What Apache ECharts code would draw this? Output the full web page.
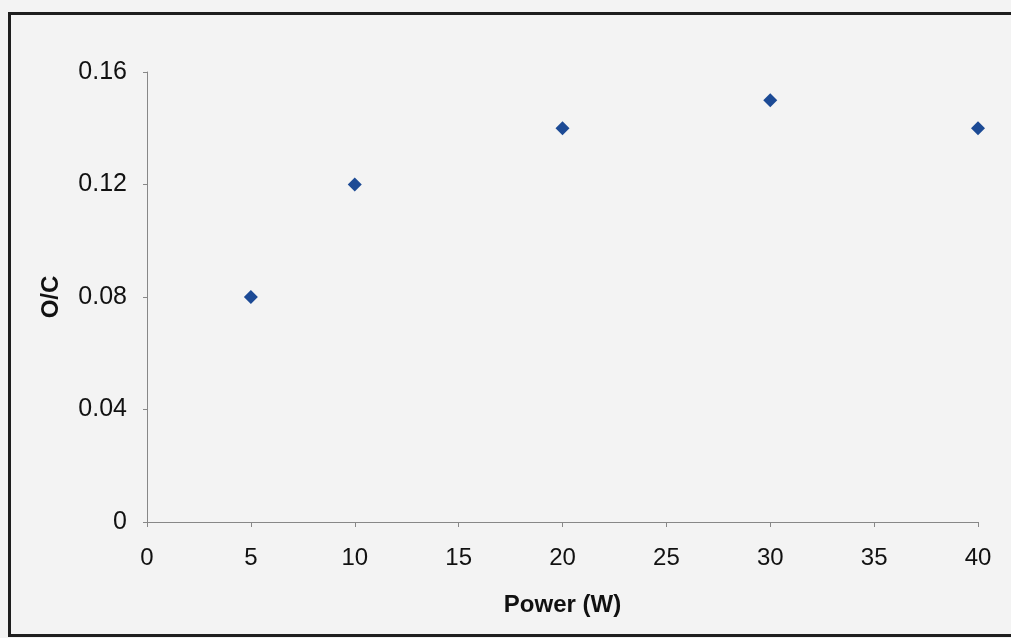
<!DOCTYPE html>
<html>
<head>
<meta charset="utf-8">
<title>O/C vs Power</title>
<script src="https://cdn.jsdelivr.net/npm/echarts@6/dist/echarts.min.js"></script>
<style>
  html, body { margin: 0; padding: 0; background: #f3f3f3; }
  #chart { width: 1011px; height: 638px; }
</style>
</head>
<body>
<div id="chart"></div>
<script>
// Measured O/C ratio at each discharge power
const powerW = [5, 10, 20, 30, 40];
const ocRatio = [0.08, 0.12, 0.14, 0.15, 0.14];

// Axis ranges and tick steps
const xTicks = { min: 0, max: 40, step: 5 };
const yTicks = { min: 0, max: 0.16, step: 0.04 };

const font = '"Liberation Sans", Arial, sans-serif';
const axisGrey = '#878787';

const chart = echarts.init(document.getElementById('chart'), null, { renderer: 'canvas' });

chart.setOption({
  backgroundColor: '#f3f3f3',
  animation: false,
  graphic: [{
    type: 'rect',
    shape: { x: 9.5, y: 13.5, width: 1030, height: 622 },
    style: { fill: 'none', stroke: '#1e1e1e', lineWidth: 3 },
    silent: true
  }],
  grid: { left: 147, top: 72, width: 831, height: 450, containLabel: false },
  xAxis: {
    type: 'value',
    min: xTicks.min,
    max: xTicks.max,
    interval: xTicks.step,
    name: 'Power (W)',
    nameLocation: 'middle',
    nameGap: 71,
    nameTextStyle: { fontFamily: font, fontSize: 24, fontWeight: 'bold', color: '#111' },
    axisLine: { onZero: false, lineStyle: { color: axisGrey, width: 1 } },
    axisTick: { show: true, inside: false, length: 5, lineStyle: { color: axisGrey } },
    axisLabel: { fontFamily: font, fontSize: 24, color: '#111', margin: 24 },
    splitLine: { show: false }
  },
  yAxis: {
    type: 'value',
    min: yTicks.min,
    max: yTicks.max,
    interval: yTicks.step,
    name: 'O/C',
    nameLocation: 'middle',
    nameGap: 84,
    nameRotate: 90,
    nameTextStyle: { fontFamily: font, fontSize: 24, fontWeight: 'bold', color: '#111' },
    axisLine: { show: true, lineStyle: { color: axisGrey, width: 1 } },
    axisTick: { show: true, inside: false, length: 4, lineStyle: { color: axisGrey } },
    axisLabel: {
      fontFamily: font, fontSize: 25, color: '#111', margin: 20,
      formatter: v => (v === 0 ? '0' : v.toFixed(2))
    },
    splitLine: { show: false }
  },
  series: [{
    type: 'scatter',
    data: powerW.map((p, i) => [p, ocRatio[i]]),
    symbol: 'diamond',
    symbolSize: [14, 14],
    itemStyle: { color: '#1c4a95', opacity: 1 }
  }]
});
</script>
</body>
</html>
